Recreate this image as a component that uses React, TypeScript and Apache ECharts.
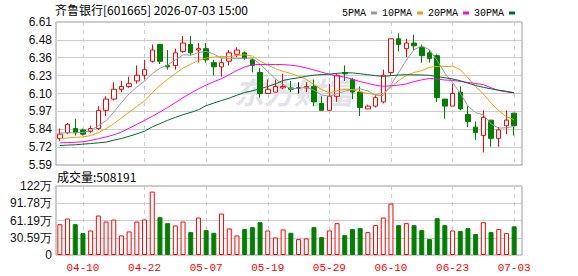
import React, { useEffect, useRef } from 'react';
import * as echarts from 'echarts';

const dates = [
  '04-07', '04-08', '04-09', '04-10', '04-13', '04-14', '04-15', '04-16', '04-17', '04-20',
  '04-21', '04-22', '04-23', '04-24', '04-27', '04-28', '04-29', '04-30', '05-06', '05-07',
  '05-08', '05-11', '05-12', '05-13', '05-14', '05-15', '05-18', '05-19', '05-20', '05-21',
  '05-22', '05-25', '05-26', '05-27', '05-28', '05-29', '06-01', '06-02', '06-03', '06-04',
  '06-05', '06-08', '06-09', '06-10', '06-11', '06-12', '06-15', '06-16', '06-17', '06-18',
  '06-22', '06-23', '06-24', '06-25', '06-26', '06-29', '06-30', '07-01', '07-02', '07-03',
];

const opens = [
  5.78, 5.82, 5.85, 5.84, 5.83, 5.85, 5.98, 6.06, 6.13, 6.15,
  6.19, 6.23, 6.33, 6.45, 6.30, 6.30, 6.40, 6.45, 6.41, 6.42,
  6.32, 6.29, 6.33, 6.38, 6.39, 6.34, 6.25, 6.10, 6.11, 6.14,
  6.14, 6.14, 6.14, 6.15, 6.03, 5.98, 6.08, 6.25, 6.20, 6.11,
  5.99, 6.01, 6.04, 6.25, 6.49, 6.42, 6.46, 6.43, 6.39, 6.37,
  6.06, 6.01, 6.11, 5.95, 5.86, 5.80, 5.91, 5.78, 5.87, 5.96,
];
const closes = [
  5.81, 5.88, 5.82, 5.81, 5.85, 5.98, 6.06, 6.13, 6.15, 6.17,
  6.23, 6.27, 6.41, 6.33, 6.29, 6.39, 6.46, 6.39, 6.42, 6.34,
  6.29, 6.32, 6.39, 6.41, 6.35, 6.30, 6.10, 6.13, 6.15, 6.15,
  6.13, 6.14, 6.15, 6.04, 5.98, 6.08, 6.23, 6.24, 6.11, 6.00,
  6.01, 6.07, 6.23, 6.49, 6.45, 6.46, 6.44, 6.37, 6.35, 6.07,
  6.01, 6.10, 5.99, 5.90, 5.82, 5.93, 5.78, 5.84, 5.91, 5.87,
];
const lows = [
  5.76, 5.81, 5.80, 5.80, 5.82, 5.84, 5.94, 6.05, 6.11, 6.14,
  6.17, 6.20, 6.32, 6.31, 6.27, 6.27, 6.39, 6.37, 6.32, 6.32,
  6.23, 6.22, 6.30, 6.36, 6.34, 6.25, 6.07, 6.10, 6.11, 6.13,
  6.11, 6.10, 6.11, 6.01, 5.98, 5.98, 6.04, 6.19, 6.06, 5.94,
  5.99, 6.00, 6.03, 6.23, 6.40, 6.36, 6.41, 6.32, 6.32, 6.04,
  5.92, 6.01, 5.98, 5.86, 5.77, 5.68, 5.72, 5.72, 5.81, 5.80,
];
const highs = [
  5.85, 5.89, 5.92, 5.85, 5.87, 6.01, 6.08, 6.18, 6.19, 6.22,
  6.30, 6.34, 6.45, 6.45, 6.41, 6.42, 6.51, 6.51, 6.46, 6.46,
  6.34, 6.35, 6.41, 6.43, 6.40, 6.35, 6.28, 6.20, 6.20, 6.24,
  6.19, 6.18, 6.18, 6.20, 6.08, 6.17, 6.24, 6.30, 6.21, 6.15,
  6.02, 6.09, 6.27, 6.49, 6.53, 6.49, 6.52, 6.45, 6.41, 6.38,
  6.06, 6.17, 6.15, 6.01, 5.90, 5.98, 5.91, 5.86, 5.98, 5.96,
];
const volumes = [
  547000, 647000, 547000, 388000, 435000, 700000, 594000, 629000, 347000, 418000,
  594000, 629000, 1124000, 671000, 565000, 524000, 594000, 406000, 665000, 441000,
  394000, 735000, 471000, 347000, 459000, 494000, 582000, 435000, 312000, 453000,
  394000, 282000, 294000, 494000, 318000, 435000, 565000, 353000, 459000, 477000,
  406000, 529000, 665000, 912000, 529000, 565000, 529000, 441000, 282000, 653000,
  529000, 435000, 424000, 477000, 371000, 582000, 406000, 459000, 388000, 508191,
];
const ma5 = [
  5.818, 5.820, 5.820, 5.822, 5.836, 5.870, 5.906, 5.967, 6.035, 6.098,
  6.146, 6.188, 6.243, 6.280, 6.304, 6.338, 6.376, 6.374, 6.391, 6.401,
  6.381, 6.353, 6.351, 6.350, 6.351, 6.353, 6.309, 6.257, 6.204, 6.165,
  6.132, 6.139, 6.144, 6.124, 6.090, 6.080, 6.099, 6.116, 6.129, 6.133,
  6.119, 6.087, 6.086, 6.161, 6.250, 6.338, 6.412, 6.439, 6.412, 6.336,
  6.246, 6.178, 6.102, 6.011, 5.963, 5.948, 5.883, 5.853, 5.856, 5.865,
];
const ma10 = [
  5.778, 5.783, 5.787, 5.790, 5.800, 5.820, 5.850, 5.885, 5.925, 5.967,
  6.008, 6.047, 6.105, 6.158, 6.201, 6.242, 6.282, 6.309, 6.336, 6.353,
  6.360, 6.365, 6.363, 6.371, 6.376, 6.367, 6.331, 6.304, 6.277, 6.258,
  6.243, 6.224, 6.201, 6.164, 6.128, 6.106, 6.119, 6.130, 6.127, 6.112,
  6.100, 6.093, 6.101, 6.145, 6.192, 6.229, 6.250, 6.263, 6.287, 6.293,
  6.292, 6.295, 6.271, 6.212, 6.150, 6.097, 6.031, 5.978, 5.934, 5.914,
];
const ma20 = [
  5.748, 5.750, 5.752, 5.756, 5.765, 5.778, 5.790, 5.805, 5.825, 5.852,
  5.880, 5.908, 5.937, 5.968, 6.000, 6.035, 6.070, 6.103, 6.133, 6.160,
  6.184, 6.206, 6.234, 6.265, 6.289, 6.305, 6.307, 6.307, 6.307, 6.306,
  6.302, 6.295, 6.282, 6.268, 6.252, 6.237, 6.225, 6.217, 6.202, 6.185,
  6.172, 6.159, 6.151, 6.155, 6.160, 6.168, 6.185, 6.197, 6.207, 6.203,
  6.196, 6.194, 6.186, 6.179, 6.171, 6.163, 6.141, 6.121, 6.111, 6.104,
];
const ma30 = [
  5.729, 5.732, 5.734, 5.739, 5.743, 5.748, 5.753, 5.767, 5.779, 5.795,
  5.812, 5.831, 5.862, 5.885, 5.909, 5.930, 5.949, 5.965, 5.984, 6.013,
  6.032, 6.050, 6.067, 6.088, 6.107, 6.119, 6.133, 6.150, 6.169, 6.193,
  6.204, 6.212, 6.223, 6.231, 6.235, 6.238, 6.244, 6.248, 6.247, 6.241,
  6.234, 6.227, 6.222, 6.227, 6.232, 6.234, 6.233, 6.232, 6.230, 6.221,
  6.212, 6.204, 6.191, 6.174, 6.157, 6.144, 6.133, 6.124, 6.116, 6.106,
];

const labelDates = ['04-10', '04-22', '05-07', '05-19', '05-29', '06-10', '06-23', '07-03'];
const priceTicks = ['5.59', '5.72', '5.84', '5.97', '6.10', '6.23', '6.36', '6.48', '6.61'];
const volumeTicks = ['0', '30.59万', '61.19万', '91.78万', '122万'];
const maNames = ['5PMA', '10PMA', '20PMA', '30PMA'];
const maColors = ['#9a9a9a', '#f0a000', '#ff00ff', '#006b30'];
const titleText = '齐鲁银行[601665] 2026-07-03 15:00';
const volumeTitle = '成交量:508191';
const watermark = '东方财富';

const PRICE_MIN = 5.59;
const PRICE_MAX = 6.61;
const VOL_MAX = 1223700;

const UP = '#ff0000';
const DOWN = '#008000';
const CJK = '"Noto Sans CJK SC", sans-serif';
const MONO = '"Liberation Mono", monospace';
const SANS = '"Liberation Sans", Arial, sans-serif';

export default function App() {
  const ref = useRef<HTMLDivElement>(null);

  useEffect(() => {
    if (!ref.current) return;
    const chart = echarts.init(ref.current, null, { renderer: 'svg' });
    const priceInterval = (PRICE_MAX - PRICE_MIN) / 8;
    const volInterval = VOL_MAX / 4;
    const isLabel = (_i: number, v: string) => labelDates.includes(v);
    const maSeries = [ma5, ma10, ma20, ma30];

    const option: any = {
      animation: false,
      backgroundColor: '#ffffff',
      legend: {
        top: 3,
        left: 337,
        align: 'right',
        icon: 'rect',
        itemWidth: 6,
        itemHeight: 3,
        itemGap: 5,
        selectedMode: false,
        data: maNames.map((n, i) => ({ name: n, itemStyle: { color: maColors[i] } })),
        textStyle: { fontFamily: MONO, fontSize: 10, color: '#000' },
      },
      graphic: [
        {
          type: 'text', left: 55, top: 3, z: 10,
          style: { text: titleText, fontFamily: CJK, fontSize: 12, fill: '#000' },
        },
        {
          type: 'text', left: 57, top: 170, z: 10,
          style: { text: volumeTitle, fontFamily: CJK, fontSize: 12, fill: '#000' },
        },
        {
          type: 'text', left: 234, top: 76, z: 1, silent: true,
          style: {
            text: watermark, fontFamily: CJK, fontSize: 30, fontWeight: 'bold',
            fontStyle: 'italic', fill: '#e2e2e9',
          },
        },
      ],
      grid: [
        { left: 56, top: 22, width: 462, height: 143, show: false },
        { left: 56, top: 186, width: 462, height: 69, show: false },
        { left: 56, top: 22, width: 466, height: 143, show: true, borderColor: '#999', borderWidth: 1, backgroundColor: 'transparent' },
        { left: 56, top: 186, width: 466, height: 69, show: true, borderColor: '#999', borderWidth: 1, backgroundColor: 'transparent' },
      ],
      xAxis: [
        {
          type: 'category', gridIndex: 0, data: dates, boundaryGap: true,
          axisLine: { show: false }, axisTick: { show: false }, axisLabel: { show: false },
          splitLine: { show: true, interval: isLabel, alignWithLabel: true, lineStyle: { color: '#cccccc', type: [4, 4] } },
        },
        {
          type: 'category', gridIndex: 1, data: dates, boundaryGap: true,
          axisLine: { show: false }, axisTick: { show: false },
          axisLabel: { show: true, interval: isLabel, color: UP, fontFamily: MONO, fontSize: 11, margin: 7 },
          splitLine: { show: true, interval: isLabel, alignWithLabel: true, lineStyle: { color: '#cccccc', type: [4, 4] } },
        },
        { type: 'value', gridIndex: 2, show: false, min: 0, max: 1 },
        { type: 'value', gridIndex: 3, show: false, min: 0, max: 1 },
      ],
      yAxis: [
        { type: 'value', gridIndex: 0, min: PRICE_MIN, max: PRICE_MAX, show: false },
        { type: 'value', gridIndex: 1, min: 0, max: VOL_MAX, show: false },
        {
          type: 'value', gridIndex: 2, min: PRICE_MIN, max: PRICE_MAX, interval: priceInterval,
          axisLine: { show: false }, axisTick: { show: false },
          axisLabel: {
            margin: 4, color: '#111', fontFamily: SANS, fontSize: 12,
            formatter: (v: number) => priceTicks[Math.round((v - PRICE_MIN) / priceInterval)] ?? '',
          },
          splitLine: { show: true, lineStyle: { color: '#cccccc', width: 1 } },
        },
        {
          type: 'value', gridIndex: 3, min: 0, max: VOL_MAX, interval: volInterval,
          axisLine: { show: false }, axisTick: { show: false },
          axisLabel: {
            margin: 4, color: '#111', fontFamily: SANS, fontSize: 12,
            formatter: (v: number) => volumeTicks[Math.round(v / volInterval)] ?? '',
          },
          splitLine: { show: true, lineStyle: { color: '#cccccc', width: 1 } },
        },
      ],
      series: [
        {
          type: 'candlestick', name: 'K', xAxisIndex: 0, yAxisIndex: 0, barWidth: 5, z: 3,
          data: dates.map((_, i) => [opens[i], closes[i], lows[i], highs[i]]),
          itemStyle: {
            color: '#ffffff', color0: DOWN, borderColor: UP, borderColor0: DOWN,
            borderColorDoji: '#000000', borderWidth: 1,
          },
        },
        ...maNames.map((n, k) => ({
          type: 'line', name: n, xAxisIndex: 0, yAxisIndex: 0, data: maSeries[k],
          symbol: 'none', z: 4,
          lineStyle: { width: 1, color: maColors[k] }, itemStyle: { color: maColors[k] },
        })),
        {
          type: 'bar', name: 'VOL', xAxisIndex: 1, yAxisIndex: 1, barWidth: 5,
          data: volumes.map((v, i) => ({
            value: v,
            itemStyle: closes[i] >= opens[i]
              ? { color: '#ffffff', borderColor: UP, borderWidth: 1 }
              : { color: DOWN, borderColor: DOWN, borderWidth: 1 },
          })),
        },
      ],
    };
    chart.setOption(option);
    return () => chart.dispose();
  }, []);

  return (
    <div
      ref={ref}
      style={{ position: 'fixed', left: 0, top: 0, width: 578, height: 276, background: '#fff' }}
    />
  );
}
